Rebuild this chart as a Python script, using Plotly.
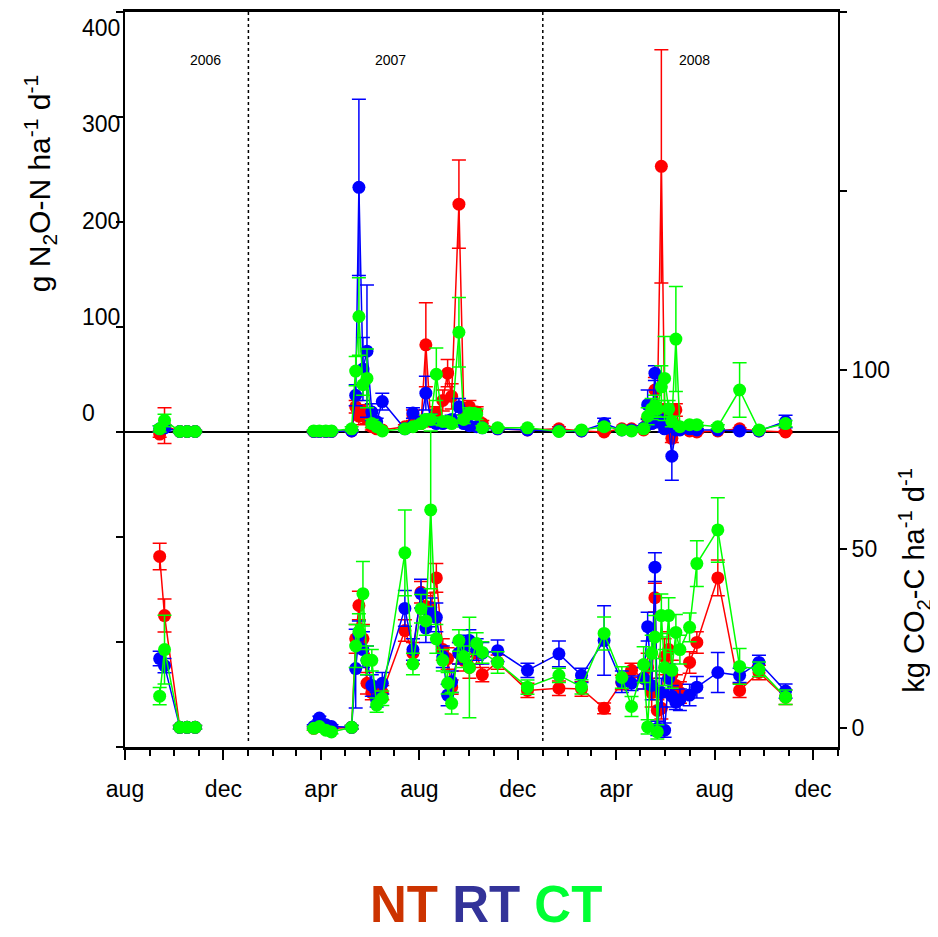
import plotly.graph_objects as go
import pandas as pd

# ---------------- data ----------------
dates = [
    "2006-09-13", "2006-09-19", "2006-10-08", "2006-10-17", "2006-10-27",
    "2007-03-23", "2007-03-30", "2007-04-07", "2007-04-14", "2007-05-09",
    "2007-05-14", "2007-05-18", "2007-05-23", "2007-05-28", "2007-06-03",
    "2007-06-09", "2007-06-16", "2007-07-14", "2007-07-24", "2007-08-03",
    "2007-08-09", "2007-08-15", "2007-08-22", "2007-08-30", "2007-09-05",
    "2007-09-10", "2007-09-19", "2007-09-25", "2007-10-02", "2007-10-11",
    "2007-10-18", "2007-11-06", "2007-12-13",
    "2008-01-21", "2008-02-18", "2008-03-17", "2008-04-08", "2008-04-20",
    "2008-05-05", "2008-05-10", "2008-05-15", "2008-05-19", "2008-05-22",
    "2008-05-27", "2008-05-31", "2008-06-05", "2008-06-09", "2008-06-14",
    "2008-06-19", "2008-07-01", "2008-07-10", "2008-08-05", "2008-09-01",
    "2008-09-25", "2008-10-28",
]

# N2O flux, g N2O-N ha-1 d-1
n2o_nt = [-2, 6, 0.5, 0.5, 0.5, 0.5, 0.5, 0.5, 0.5, 1,
          24, 15, 20, 13, 5, 3, 2, 5, 16, 8,
          83, 10, 18, 30, 56, 34, 217, 22, 24, 19,
          8, 3, 2,
          3, 1, 0, 3, 3, 2, 8, 10, 40, 20,
          253, 20, 21, -6, 21, 3, 1, 0, 1, 3,
          1, 0]
n2o_nt_err = [3, 17, 1, 1, 1, 1, 1, 1, 1, 1,
              6, 8, 6, 5, 3, 2, 1, 2, 5, 3,
              40, 4, 6, 10, 13, 12, 42, 6, 6, 5,
              3, 1, 1,
              2, 1, 1, 1, 1, 1, 5, 5, 12, 5,
              111, 6, 6, 4, 6, 1, 1, 1, 1, 1,
              1, 1]
n2o_rt = [3, 4, 0.5, 0.5, 0.5, 0.5, 0.5, 0.5, 0.5, 1,
          35, 233, 60, 77, 19, 10, 29, 3, 18, 10,
          37, 12, 8, 8, 10, 12, 24, 8, 6, 5,
          4, 3, 2,
          1, 1, 8, 2, 2, 4, 26, 8, 56, 12,
          10, 3, 5, -23, 2, 2, 3, 2, 2, 1,
          1, 10]
n2o_rt_err = [3, 3, 1, 1, 1, 1, 1, 1, 1, 1,
              10, 84, 30, 63, 8, 3, 8, 2, 5, 3,
              16, 5, 3, 3, 3, 4, 8, 3, 3, 2,
              2, 1, 1,
              1, 1, 5, 1, 1, 2, 14, 4, 7, 5,
              5, 3, 3, 23, 2, 1, 1, 1, 1, 1,
              1, 6]
n2o_ct = [3, 11, 0.5, 0.5, 0.5, 1, 1, 1, 1, 3,
          58, 110, 45, 51, 8, 5, 1, 3, 5, 8,
          12, 12, 55, 10, 10, 8, 95, 12, 18, 17,
          4, 4, 4,
          0.5, 2, 5, 2, 1, 3, 15, 22, 25, 22,
          43, 51, 22, 10, 88.5, 5, 7, 7, 5, 40,
          2, 8]
n2o_ct_err = [3, 6, 1, 1, 1, 1, 1, 1, 1, 2,
              14, 37, 10, 28, 4, 2, 1, 2, 2, 3,
              4, 5, 25, 4, 3, 3, 33, 4, 5, 5,
              2, 1, 1,
              1, 1, 3, 1, 1, 2, 8, 10, 10, 8,
              20, 40, 8, 5, 50, 2, 2, 2, 2, 26,
              1, 3]

# CO2 flux, kg CO2-C ha-1 d-1
co2_nt = [48, 31.5, 0.3, 0.3, 0.3, 0, 0.5, 0.5, 0, 0.3,
          25, 34.3, 25, 12.6, 10, 10.6, 10, 27.3, 21, 38,
          34, 33.8, 42, 22, 19.5, 11.5, 21, 19, 17, 21,
          15, 18.5, 10.6,
          11.2, 11, 5.6, 12.8, 16.2, 14, 17, 10, 36.5, 5,
          5.6, 20, 22, 15, 12, 10, 18.4, 24, 42, 10.6,
          15.6, 8.7]
co2_nt_err = [3.7, 4.6, 0.5, 0.5, 0.5, 0.5, 0.5, 0.5, 0.5, 0.5,
              4, 4, 4, 3, 2, 2, 2, 3, 3, 3,
              3, 4, 4, 3, 3, 2, 3, 3, 3, 3,
              2, 2, 2,
              2, 2, 1.5, 2, 2, 3, 4, 4, 4, 3,
              3, 5, 5, 4, 3, 3, 3, 3, 5, 2,
              2, 2]
co2_rt = [19.5, 17.5, 0.3, 0.3, 0.3, 0.5, 2.9, 1, 0.5, 0.3,
          16.7, 26, 22, 19, 12, 8, 12.6, 33.5, 22, 37.6,
          28, 32.4, 31, 20, 9.3, 13, 21, 23, 24.5, 22,
          21, 21.7, 16.2,
          20.8, 14.8, 24.5, 13, 12.6, 14, 28.4, 12, 45, 0,
          10, -0.5, 14, 9, 7.3, 8, 9.3, 11.5, 15.6, 14.8,
          18.4, 10.4]
co2_rt_err = [2, 2, 0.5, 0.5, 0.5, 0.5, 0.5, 0.5, 0.5, 0.5,
              11, 4, 5, 4, 3, 2, 3, 5, 3, 4,
              4, 4, 4, 3, 3, 3, 3, 3, 3, 3,
              3, 3, 2,
              3.6, 2, 9.7, 3, 2, 3, 4, 4, 4, 2,
              4, 2, 4, 3, 2, 3, 3, 3, 5.6, 2,
              2, 2]
co2_ct = [9, 22, 0.3, 0.3, 0.3, 0, 0.5, -0.5, -1, 0.3,
          23, 27, 37.6, 19, 19, 6.5, 8.4, 49, 18, 33.4,
          30, 61, 25, 19, 12.6, 7, 24.5, 20, 17, 23.7,
          21.2, 18.4, 11.5,
          14.8, 11.6, 26.5, 14.2, 6.1, 17.8, 0.4, 21, 25.5, -1,
          31.5, 17, 31.5, 16.2, 26.8, 22, 28.2, 46, 55.4, 17.3,
          16.5, 8.7]
co2_ct_err = [2.4, 9.6, 0.5, 0.5, 0.5, 0.5, 0.5, 0.5, 0.5, 0.5,
              6, 5, 9, 4, 3, 2, 2, 12, 3, 4,
              4, 22, 4, 3, 3, 3, 3, 3, 14, 3,
              3, 3, 2,
              2, 2, 4.6, 3, 2.8, 5, 2, 5, 6, 2,
              6, 5, 5, 5, 5, 4, 4, 6.4, 9, 5,
              2, 2]

treatments = ["NT", "RT", "CT"]
marker_colors = ["#FF0000", "#0000FF", "#00FF00"]
legend_colors = ["#CC3300", "#333399", "#00FF33"]

month_ticks = ["2006-08-01", "2006-12-01", "2007-04-01", "2007-08-01",
               "2007-12-01", "2008-04-01", "2008-08-01", "2008-12-01"]
month_labels = ["aug", "dec", "apr", "aug", "dec", "apr", "aug", "dec"]
year_boundaries = ["2007-01-01", "2008-01-01"]
year_labels = ["2006", "2007", "2008"]
n2o_ticks = [-300, -200, -100, 0, 100, 200, 300, 400]
n2o_labels = ["0", "100", "200", "300", "400"]
co2_ticks = [0, 50, 100]
co2_labels = ["0", "50", "100"]

# ---------------- layout geometry ----------------
# the page body adds an 8 px margin, so the figure is 8 px smaller and
# reference (page) pixel positions are shifted by OFF
OFF = 8
W, H = 938 - OFF, 937 - OFF
L, R, T, B = 117, 830, 1, 739          # plot area in figure pixels
SANS = "Liberation Sans, Arial, sans-serif"


def pxx(px):
    return (px - OFF - L) / (R - L)


def pxy(py):
    return (B - (py - OFF)) / (B - T)


def with_gaps(d, vals, errs):
    """Break the line where sampling pauses for more than 100 days."""
    dd = pd.to_datetime(d)
    xo, yo, eo = [], [], []
    for i in range(len(dd)):
        if i > 0 and (dd[i] - dd[i - 1]).days > 100:
            xo.append(dd[i - 1] + (dd[i] - dd[i - 1]) / 2)
            yo.append(None)
            eo.append(0)
        xo.append(dd[i])
        yo.append(vals[i])
        eo.append(errs[i])
    return xo, yo, eo


fig = go.Figure()

n2o_sets = [(n2o_nt, n2o_nt_err), (n2o_rt, n2o_rt_err), (n2o_ct, n2o_ct_err)]
co2_sets = [(co2_nt, co2_nt_err), (co2_rt, co2_rt_err), (co2_ct, co2_ct_err)]

for name, col, (cv, ce) in zip(treatments, marker_colors, co2_sets):
    x, y, e = with_gaps(dates, cv, ce)
    fig.add_trace(go.Scatter(
        x=x, y=y, yaxis="y2", mode="lines+markers", name=name + " CO2",
        line=dict(color=col, width=1.5),
        marker=dict(color=col, size=13, symbol="circle"),
        error_y=dict(type="data", array=e, visible=True, color=col,
                     thickness=1.5, width=7),
        connectgaps=False, showlegend=False))

for name, col, (nv, ne) in zip(treatments, marker_colors, n2o_sets):
    x, y, e = with_gaps(dates, nv, ne)
    fig.add_trace(go.Scatter(
        x=x, y=y, yaxis="y", mode="lines+markers", name=name + " N2O",
        line=dict(color=col, width=1.5),
        marker=dict(color=col, size=13, symbol="circle"),
        error_y=dict(type="data", array=e, visible=True, color=col,
                     thickness=1.5, width=7),
        connectgaps=False, showlegend=False))

fig.update_layout(
    width=W, height=H,
    margin=dict(l=L, r=W - R, t=T, b=H - B, pad=0),
    paper_bgcolor="white", plot_bgcolor="white",
    showlegend=False,
    xaxis=dict(
        type="date", range=["2006-08-01", "2009-01-01"],
        tickmode="array", tickvals=month_ticks, ticktext=month_labels,
        ticks="outside", ticklen=10, tickwidth=1.5, tickcolor="black",
        showline=True, linewidth=2.5, linecolor="black", mirror=True,
        showgrid=False, zeroline=False, ticklabelstandoff=10,
        tickfont=dict(family=SANS, size=23, color="black"),
        minor=dict(tickmode="linear", tick0="2006-08-01", dtick="M1",
                   ticks="outside", ticklen=6, tickwidth=1.5,
                   tickcolor="black", showgrid=False),
    ),
    yaxis=dict(
        range=[-300, 400], tickmode="array", tickvals=n2o_ticks,
        showticklabels=False, ticks="outside", ticklen=7, tickwidth=1.5,
        tickcolor="black", showline=True, linewidth=2, linecolor="black",
        showgrid=False, zeroline=True, zerolinecolor="black",
        zerolinewidth=1.5,
    ),
    yaxis2=dict(
        range=[-5.2, 200], overlaying="y", side="right",
        tickmode="array", tickvals=co2_ticks, ticktext=co2_labels,
        ticks="outside", ticklen=7, tickwidth=1.5, tickcolor="black",
        showline=True, linewidth=2, linecolor="black",
        showgrid=False, zeroline=False,
        tickfont=dict(family=SANS, size=23, color="black"),
        minor=dict(tickmode="linear", tick0=0, dtick=50, ticks="outside",
                   ticklen=7, tickwidth=1.5, tickcolor="black",
                   showgrid=False),
    ),
)

# year separators
for yb in year_boundaries:
    fig.add_shape(type="line", xref="x", yref="paper", x0=yb, x1=yb,
                  y0=pxy(741), y1=pxy(9),
                  line=dict(color="black", width=1.5, dash="dot"))

# left N2O tick labels (placed at the positions of the original)
for i, lab in enumerate(n2o_labels):
    fig.add_annotation(x=pxx(80), y=pxy(412 - 96.8 * i), xref="paper", yref="paper",
                       text=lab, showarrow=False, xanchor="left", yanchor="middle",
                       font=dict(family=SANS, size=23, color="black"))

# year labels
for lab, xp in zip(year_labels, [205, 390, 694]):
    fig.add_annotation(x=pxx(xp), y=pxy(57), xref="paper", yref="paper",
                       text=lab, showarrow=False, xanchor="center", yanchor="middle",
                       font=dict(family=SANS, size=14, color="black"))

# axis titles
fig.add_annotation(x=pxx(40), y=pxy(182), xref="paper", yref="paper",
                   text="g N<sub>2</sub>O-N ha<sup>-1</sup> d<sup>-1</sup>",
                   textangle=-90, showarrow=False, xanchor="center", yanchor="middle",
                   font=dict(family=SANS, size=30, color="black"))
fig.add_annotation(x=pxx(914), y=pxy(580), xref="paper", yref="paper",
                   text="kg CO<sub>2</sub>-C ha<sup>-1</sup> d<sup>-1</sup>",
                   textangle=-90, showarrow=False, xanchor="center", yanchor="middle",
                   font=dict(family=SANS, size=29, color="black"))

# treatment key
key = " ".join('<span style="color:%s">%s</span>' % (c, t)
               for t, c in zip(treatments, legend_colors))
fig.add_annotation(x=pxx(486), y=pxy(905), xref="paper", yref="paper",
                   text="<b>" + key + "</b>", showarrow=False,
                   xanchor="center", yanchor="middle",
                   font=dict(family=SANS, size=51, color="black"))

fig.write_html("out.html")
